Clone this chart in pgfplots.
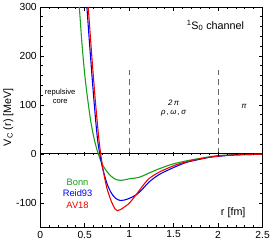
\documentclass[border=0pt]{standalone}
\usepackage{pgfplots}
\pgfplotsset{compat=1.18}
\usepackage{fontspec}
\setmainfont{Liberation Sans}
\definecolor{cgreen}{RGB}{20,160,20}
\definecolor{cblue}{RGB}{0,0,240}
\definecolor{cred}{RGB}{240,0,0}
\begin{document}
\begin{tikzpicture}
\pgfplotsset{
  common/.style={
    scale only axis, width=227pt, height=225pt,
    xmin=0, xmax=2.5, ymin=-150, ymax=300,
    xtick={0,0.5,1,1.5,2,2.5}, ytick={-100,0,100,200,300},
    minor x tick num=4, minor y tick num=4,
    tick align=inside,
    major tick length=4pt, minor tick length=2.5pt,
    tick style={black, line width=0.6pt},
    /pgf/number format/assume math mode=true,
  }
}
\begin{axis}[common,
  axis line style={line width=0.8pt},
  ticklabel style={font=\fontsize{10.5}{12}\selectfont},
  xticklabels={0,0.5,1,1.5,2,2.5},
  yticklabels={-100,0,100,200,300},
  ylabel={V\textsubscript{C} (r) [MeV]},
  ylabel style={font=\fontsize{11}{13}\selectfont, yshift=-4pt},
  clip=true,
]
\addplot[gray!80!black, line width=0.8pt, dash pattern=on 6pt off 4pt] coordinates {(1,0) (1,175)};
\addplot[gray!80!black, line width=0.8pt, dash pattern=on 6pt off 4pt] coordinates {(2,0) (2,175)};
\addplot[black, line width=0.8pt] coordinates {(0,0) (2.5,0)};
\addplot[cgreen, line width=1.1pt, smooth, tension=0.5] coordinates {
(0.44,300) (0.472,220) (0.502,160) (0.535,110) (0.57,65) (0.61,28) (0.653,0) (0.7,-22) (0.75,-36)
(0.8,-46) (0.85,-52) (0.9,-54) (0.95,-53) (1.0,-51) (1.11,-48) (1.2,-41) (1.33,-31) (1.45,-23) (1.55,-18)
(1.65,-14) (1.77,-10) (1.9,-6) (2.0,-3.5) (2.2,-1.5) (2.5,-0.5)};
\addplot[cblue, line width=1.1pt, smooth, tension=0.5] coordinates {
(0.525,300) (0.553,230) (0.58,165) (0.605,108) (0.628,60) (0.648,25) (0.67,0) (0.7,-28) (0.75,-60) (0.8,-80)
(0.85,-91) (0.9,-95) (0.95,-94) (1.0,-91) (1.076,-84) (1.15,-72) (1.22,-58) (1.33,-43) (1.45,-32) (1.55,-24)
(1.65,-17) (1.77,-12) (1.9,-7) (2.0,-5) (2.2,-2) (2.5,-0.8)};
\addplot[cred, line width=1.1pt, smooth, tension=0.5] coordinates {
(0.54,300) (0.566,235) (0.592,172) (0.617,115) (0.64,68) (0.66,30) (0.68,0) (0.71,-35) (0.75,-70) (0.8,-97)
(0.84,-112) (0.867,-116) (0.9,-114) (0.95,-108) (1.0,-101) (1.076,-84) (1.15,-66) (1.22,-51) (1.33,-38) (1.45,-28)
(1.55,-21) (1.65,-16) (1.77,-11) (1.9,-7) (2.0,-4.5) (2.2,-2) (2.5,-0.8)};
\node[font=\fontsize{7.8}{9.5}\selectfont, align=center] at (axis cs:0.225,118) {repulsive\\core};
\node[font=\itshape\fontsize{8}{9.5}\selectfont, align=center] at (axis cs:1.5,93) {2\,π\\ρ\,,\,ω\,,\,σ};
\node[font=\itshape\fontsize{8}{9.5}\selectfont] at (axis cs:2.29,96) {π};
\node[font=\fontsize{11}{13}\selectfont] at (axis cs:1.97,262) {\textsuperscript{1}S\textsubscript{0} channel};
\node[font=\fontsize{11}{13}\selectfont] at (axis cs:2.17,-120) {r [fm]};
\node[font=\fontsize{9.5}{11}\selectfont, text=cgreen] at (axis cs:0.42,-58) {Bonn};
\node[font=\fontsize{9.5}{11}\selectfont, text=cblue] at (axis cs:0.42,-81) {Reid93};
\node[font=\fontsize{9.5}{11}\selectfont, text=cred] at (axis cs:0.42,-104) {AV18};
\end{axis}
\begin{axis}[common,
  axis x line=middle, axis y line=none,
  xticklabels={}, yticklabels={}, ytick=\empty,
  axis line style={draw=none, -},
]
\end{axis}
\end{tikzpicture}
\end{document}
